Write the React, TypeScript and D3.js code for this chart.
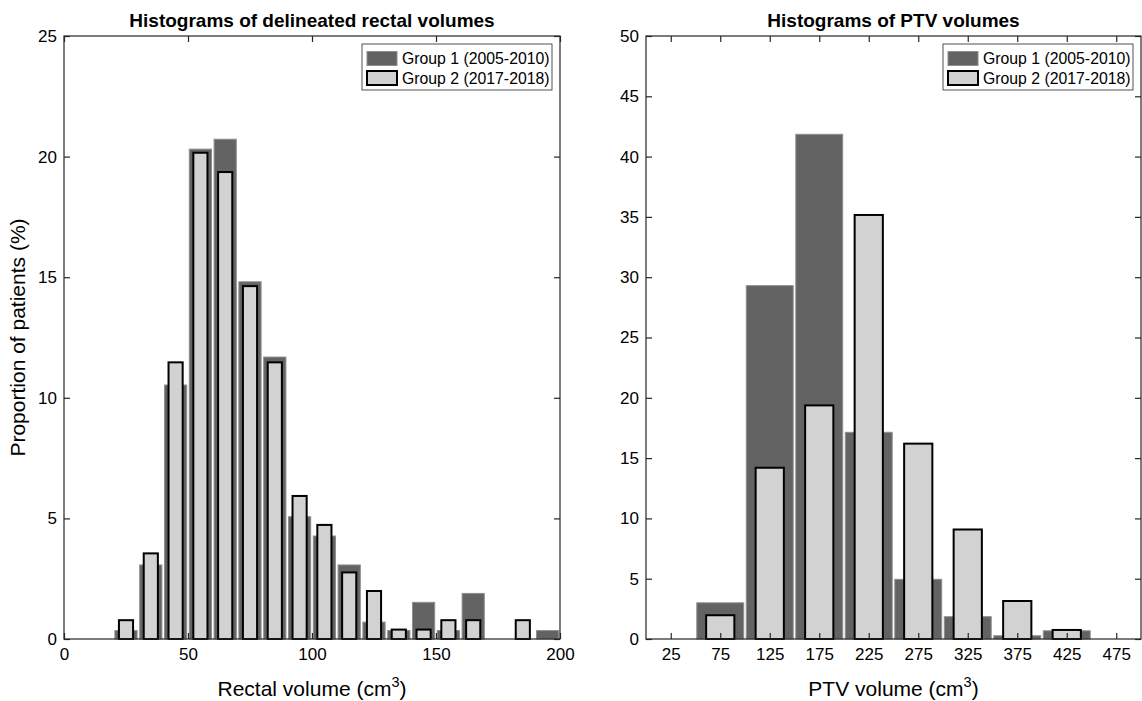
import { useEffect, useRef } from 'react';
import * as d3 from 'd3';

const W = 1142;
const H = 701;
const FONT = '"Liberation Sans", Arial, Helvetica, sans-serif';
const AXIS = '#262626';
const DARK = '#636363';
const DARK_EDGE = '#8e8e8e';
const LIGHT = '#d1d2d1';

const seriesNames = ['Group 1 (2005-2010)', 'Group 2 (2017-2018)'];

// rectal volume histogram, bins of 10 cm3
const rectalBins = [5, 15, 25, 35, 45, 55, 65, 75, 85, 95, 105, 115, 125, 135, 145, 155, 165, 175, 185, 195];
const rectalGroup1 = [0, 0, 0.35, 3.07, 10.53, 20.31, 20.72, 14.81, 11.69, 5.07, 4.27, 3.07, 0.7, 0.35, 1.52, 0.35, 1.89, 0, 0, 0.35];
const rectalGroup2 = [0, 0, 0.78, 3.55, 11.47, 20.16, 19.36, 14.63, 11.47, 5.93, 4.73, 2.76, 1.99, 0.39, 0.39, 0.78, 0.78, 0, 0.78, 0];
const rectalXTicks = [0, 50, 100, 150, 200];
const rectalYTicks = [0, 5, 10, 15, 20, 25];

// PTV volume histogram, bins of 50 cm3
const ptvBins = [25, 75, 125, 175, 225, 275, 325, 375, 425, 475];
const ptvGroup1 = [0, 3.0, 29.3, 41.85, 17.14, 4.95, 1.85, 0.27, 0.68, 0];
const ptvGroup2 = [0, 1.97, 14.2, 19.37, 35.16, 16.2, 9.08, 3.15, 0.75, 0];
const ptvXTicks = [25, 75, 125, 175, 225, 275, 325, 375, 425, 475];
const ptvYTicks = [0, 5, 10, 15, 20, 25, 30, 35, 40, 45, 50];

const top = 36;
const bottom = 639;

const panels = [
  {
    left: 64, right: 560, xDomain: [0, 200], yDomain: [0, 25], binWidth: 10,
    bins: rectalBins, g1: rectalGroup1, g2: rectalGroup2, xTicks: rectalXTicks, yTicks: rectalYTicks,
    title: 'Histograms of delineated rectal volumes', xLabel: 'Rectal volume (cm', yLabel: 'Proportion of patients (%)',
  },
  {
    left: 646, right: 1141, xDomain: [0, 500], yDomain: [0, 50], binWidth: 50,
    bins: ptvBins, g1: ptvGroup1, g2: ptvGroup2, xTicks: ptvXTicks, yTicks: ptvYTicks,
    title: 'Histograms of PTV volumes', xLabel: 'PTV volume (cm', yLabel: null,
  },
];

function drawPanel(svg: any, p: any) {
  const x = d3.scaleLinear().domain(p.xDomain).range([p.left, p.right]);
  const y = d3.scaleLinear().domain(p.yDomain).range([bottom, top]);
  const bw = x(p.binWidth) - x(0);
  const g = svg.append('g');

  const d1 = p.bins.map((c: number, i: number) => ({ c, v: p.g1[i] }));
  const d2 = p.bins.map((c: number, i: number) => ({ c, v: p.g2[i] })).filter((d: any) => d.v > 0);

  g.selectAll('rect.g1')
    .data(d1)
    .join('rect')
    .attr('class', 'g1')
    .attr('x', (d: any) => x(d.c - p.binWidth / 2) + 1.3)
    .attr('width', bw - 2.6)
    .attr('y', (d: any) => y(d.v))
    .attr('height', (d: any) => y(0) - y(d.v))
    .attr('fill', DARK)
    .attr('stroke', DARK_EDGE)
    .attr('stroke-width', 1);

  const lw = bw * 0.57;
  g.selectAll('rect.g2')
    .data(d2)
    .join('rect')
    .attr('class', 'g2')
    .attr('x', (d: any) => x(d.c) - lw / 2)
    .attr('width', lw)
    .attr('y', (d: any) => y(d.v))
    .attr('height', (d: any) => y(0) - y(d.v))
    .attr('fill', LIGHT)
    .attr('stroke', '#000')
    .attr('stroke-width', 2);

  // box and ticks on all four sides, pointing inwards
  const style = (a: any) => {
    a.attr('font-family', FONT).attr('font-size', 17).style('color', AXIS);
    a.select('.domain').remove();
    a.selectAll('.tick line').attr('stroke-width', 1.2);
    a.selectAll('.tick text').attr('fill', '#000');
  };
  g.append('g').attr('transform', `translate(0,${bottom})`)
    .call(d3.axisBottom(x).tickValues(p.xTicks).tickSize(-6).tickPadding(9)).call(style);
  g.append('g').attr('transform', `translate(0,${top})`)
    .call(d3.axisTop(x).tickValues(p.xTicks).tickSize(-6).tickFormat(() => '')).call(style);
  g.append('g').attr('transform', `translate(${p.left},0)`)
    .call(d3.axisLeft(y).tickValues(p.yTicks).tickSize(-6).tickPadding(7)).call(style);
  g.append('g').attr('transform', `translate(${p.right},0)`)
    .call(d3.axisRight(y).tickValues(p.yTicks).tickSize(-6).tickFormat(() => '')).call(style);
  g.append('rect')
    .attr('x', p.left).attr('y', top)
    .attr('width', p.right - p.left).attr('height', bottom - top)
    .attr('fill', 'none').attr('stroke', AXIS).attr('stroke-width', 1.2);

  const cx = (p.left + p.right) / 2;
  g.append('text')
    .attr('x', cx).attr('y', 27)
    .attr('text-anchor', 'middle')
    .attr('font-family', FONT).attr('font-size', 19).attr('font-weight', 'bold')
    .text(p.title);

  const xl = g.append('text')
    .attr('x', cx).attr('y', 696)
    .attr('text-anchor', 'middle')
    .attr('font-family', FONT).attr('font-size', 21);
  xl.append('tspan').text(p.xLabel);
  xl.append('tspan').attr('font-size', 14.5).attr('dy', -9).text('3');
  xl.append('tspan').attr('dy', 9).text(')');

  if (p.yLabel) {
    g.append('text')
      .attr('transform', `translate(25,${(top + bottom) / 2}) rotate(-90)`)
      .attr('text-anchor', 'middle')
      .attr('font-family', FONT).attr('font-size', 21)
      .text(p.yLabel);
  }

  // legend
  const lx = p.right - 198;
  const leg = g.append('g').attr('transform', `translate(${lx},44)`);
  leg.append('rect').attr('width', 190).attr('height', 46)
    .attr('fill', '#fff').attr('stroke', AXIS).attr('stroke-width', 0.8);
  const rows = leg.selectAll('g.item')
    .data(seriesNames)
    .join('g')
    .attr('class', 'item')
    .attr('transform', (_d: string, i: number) => `translate(0,${14.5 + i * 19.5})`);
  rows.append('rect')
    .attr('x', 5).attr('y', -7).attr('width', 30).attr('height', 14)
    .attr('fill', (_d: string, i: number) => (i === 0 ? DARK : LIGHT))
    .attr('stroke', (_d: string, i: number) => (i === 0 ? DARK_EDGE : '#000'))
    .attr('stroke-width', (_d: string, i: number) => (i === 0 ? 1 : 2));
  rows.append('text')
    .attr('x', 40).attr('y', 5.6)
    .attr('font-family', FONT).attr('font-size', 15.8)
    .text((d: string) => d);
}

const App = () => {
  const svgRef = useRef<SVGSVGElement>(null);

  useEffect(() => {
    const svg = d3.select(svgRef.current);
    svg.selectAll('*').remove();
    svg.append('rect').attr('width', W).attr('height', H).attr('fill', '#fff');
    panels.forEach(p => drawPanel(svg, p));
  }, []);

  return (
    <svg
      ref={svgRef}
      width={W}
      height={H}
      style={{ position: 'absolute', left: 0, top: 0, display: 'block' }}
    />
  );
};

export default App;
